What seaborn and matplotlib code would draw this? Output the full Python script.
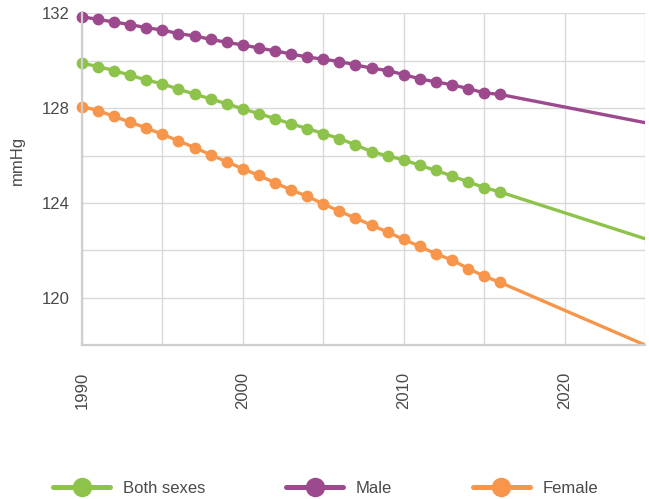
import pandas as pd
import matplotlib.pyplot as plt
import seaborn as sns
from matplotlib.ticker import MultipleLocator
from matplotlib.lines import Line2D

years = list(range(1990, 2017))
both = [129.90, 129.76, 129.59, 129.39, 129.19, 129.03, 128.80, 128.60, 128.39, 128.19,
        127.97, 127.77, 127.56, 127.34, 127.14, 126.93, 126.72, 126.45, 126.17, 125.98,
        125.82, 125.59, 125.37, 125.14, 124.89, 124.65, 124.46]
male = [131.86, 131.75, 131.64, 131.53, 131.40, 131.30, 131.15, 131.05, 130.91, 130.78,
        130.67, 130.54, 130.42, 130.29, 130.16, 130.07, 129.97, 129.83, 129.69, 129.59,
        129.42, 129.24, 129.11, 128.99, 128.83, 128.65, 128.58]
female = [128.07, 127.90, 127.65, 127.41, 127.16, 126.90, 126.62, 126.34, 126.03, 125.74,
          125.44, 125.16, 124.85, 124.55, 124.28, 123.96, 123.65, 123.36, 123.06, 122.77,
          122.46, 122.16, 121.85, 121.59, 121.23, 120.91, 120.64]

# projection to 2025 (no markers)
proj_years = [2016, 2025]
both_proj = [124.46, 122.49]
male_proj = [128.58, 127.39]
female_proj = [120.64, 118.0]

groups = ['Both sexes', 'Male', 'Female']
colors = {'Both sexes': '#8DC34B', 'Male': '#9C4A8D', 'Female': '#F7964A'}

df = pd.DataFrame({
    'Year': years * 3,
    'mmHg': both + male + female,
    'Group': [g for g in groups for _ in years],
})
proj = pd.DataFrame({
    'Year': proj_years * 3,
    'mmHg': both_proj + male_proj + female_proj,
    'Group': [g for g in groups for _ in proj_years],
})

sns.set_style('white')
plt.rcParams['font.family'] = ['Liberation Sans', 'DejaVu Sans']
txt = '#4a4a4a'

fig = plt.figure(figsize=(6.49, 4.99), dpi=100)
ax = fig.add_axes([0.1263, 0.3086, 0.8675, 0.6644])

sns.lineplot(data=proj, x='Year', y='mmHg', hue='Group', palette=colors,
             linewidth=2.4, legend=False, ax=ax)
sns.lineplot(data=df, x='Year', y='mmHg', hue='Group', palette=colors,
             marker='o', markersize=8.5, markeredgewidth=0, linewidth=2.4,
             legend=False, ax=ax, clip_on=False)

ax.set_xlim(1990, 2025)
ax.set_ylim(118, 132)
ax.xaxis.set_major_locator(MultipleLocator(10))
ax.xaxis.set_minor_locator(MultipleLocator(5))
ax.yaxis.set_major_locator(MultipleLocator(4))
ax.yaxis.set_minor_locator(MultipleLocator(2))
ax.grid(True, which='both', color='#d9d9d9', linewidth=1)
ax.set_axisbelow(True)
for s in ['top', 'right']:
    ax.spines[s].set_visible(False)
for s in ['left', 'bottom']:
    ax.spines[s].set_color('#cfcfcf')
    ax.spines[s].set_linewidth(1.6)

ax.tick_params(axis='both', which='both', length=0, labelsize=12, colors=txt)
ax.tick_params(axis='y', pad=9)
ax.tick_params(axis='x', pad=19)
plt.setp(ax.get_xticklabels(), rotation=90)
plt.setp(ax.get_yticklabels(), verticalalignment='center_baseline')
ax.set_xlabel('')
ax.set_ylabel('mmHg', fontsize=12, color=txt)
ax.yaxis.set_label_coords(-0.101, 0.557)

handles = [Line2D([0], [0], color=colors[g], linewidth=3.6, marker='o',
                  markersize=14, markeredgewidth=0) for g in groups]
fig.legend(handles, groups, loc='center', bbox_to_anchor=(0.502, 0.022), ncol=3,
           frameon=False, fontsize=12, handlelength=3.4, handletextpad=0.78,
           columnspacing=4.85, labelcolor=txt)

plt.savefig('out.png', dpi=100)
